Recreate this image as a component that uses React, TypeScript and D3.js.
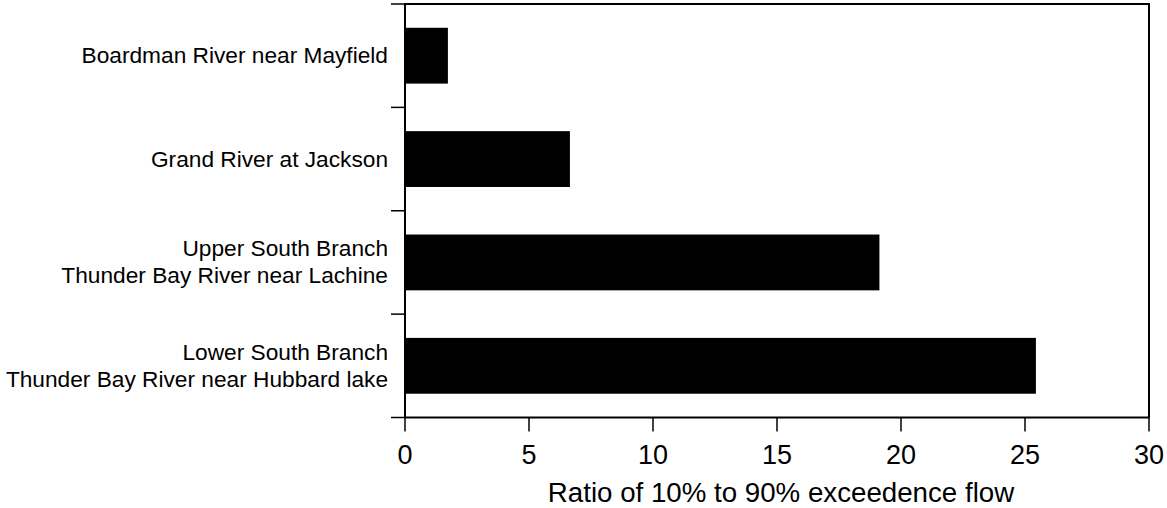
import React from "react";
import * as d3 from "d3";

const categories: string[][] = [
  ["Boardman River near Mayfield"],
  ["Grand River at Jackson"],
  ["Upper South Branch", "Thunder Bay River near Lachine"],
  ["Lower South Branch", "Thunder Bay River near Hubbard lake"],
];
const values: number[] = [1.73, 6.65, 19.13, 25.44];
const xTicks: number[] = [0, 5, 10, 15, 20, 25, 30];
const xTitle = "Ratio of 10% to 90% exceedence flow";

const W = 1167;
const H = 508;
const left = 405;
const right = 1149;
const top = 4;
const bottom = 417.5;
const font = "'Liberation Sans', Arial, sans-serif";

export default function App() {
  const x = d3.scaleLinear().domain([0, 30]).range([left, right]);
  const idx = categories.map((_, i) => String(i));
  const y = d3
    .scaleBand<string>()
    .domain(idx)
    .range([top, bottom])
    .paddingInner(0.46)
    .paddingOuter(0.23);
  const step = y.step();
  const boundaries = d3.range(categories.length + 1).map((i) => top + i * step);

  return (
    <svg
      width={W}
      height={H}
      style={{ position: "absolute", left: 0, top: 0, background: "#fff" }}
    >
      {values.map((v, i) => (
        <rect
          key={i}
          x={x(0)}
          y={y(String(i))}
          width={x(v) - x(0)}
          height={y.bandwidth()}
          fill="#000"
        />
      ))}
      <rect
        x={left}
        y={top}
        width={right - left}
        height={bottom - top}
        fill="none"
        stroke="#000"
        strokeWidth={2}
      />
      {boundaries.map((b, i) => (
        <line key={i} x1={left - 14} x2={left} y1={b} y2={b} stroke="#000" strokeWidth={1.5} />
      ))}
      {xTicks.map((t) => (
        <g key={t}>
          <line x1={x(t)} x2={x(t)} y1={bottom} y2={bottom + 14} stroke="#000" strokeWidth={1.5} />
          <text
            x={x(t)}
            y={464}
            textAnchor="middle"
            fontFamily={font}
            fontSize={27}
            fill="#000"
          >
            {t}
          </text>
        </g>
      ))}
      {categories.map((lines, i) => {
        const cy = (y(String(i)) as number) + y.bandwidth() / 2;
        const lh = 27;
        const first = cy - ((lines.length - 1) * lh) / 2 + 7.5;
        return (
          <text
            key={i}
            textAnchor="end"
            fontFamily={font}
            fontSize={22.7}
            fill="#000"
          >
            {lines.map((l, j) => (
              <tspan key={j} x={388} y={first + j * lh}>
                {l}
              </tspan>
            ))}
          </text>
        );
      })}
      <text
        x={(left + right) / 2 + 4}
        y={502}
        textAnchor="middle"
        fontFamily={font}
        fontSize={27.7}
        fill="#000"
      >
        {xTitle}
      </text>
    </svg>
  );
}
